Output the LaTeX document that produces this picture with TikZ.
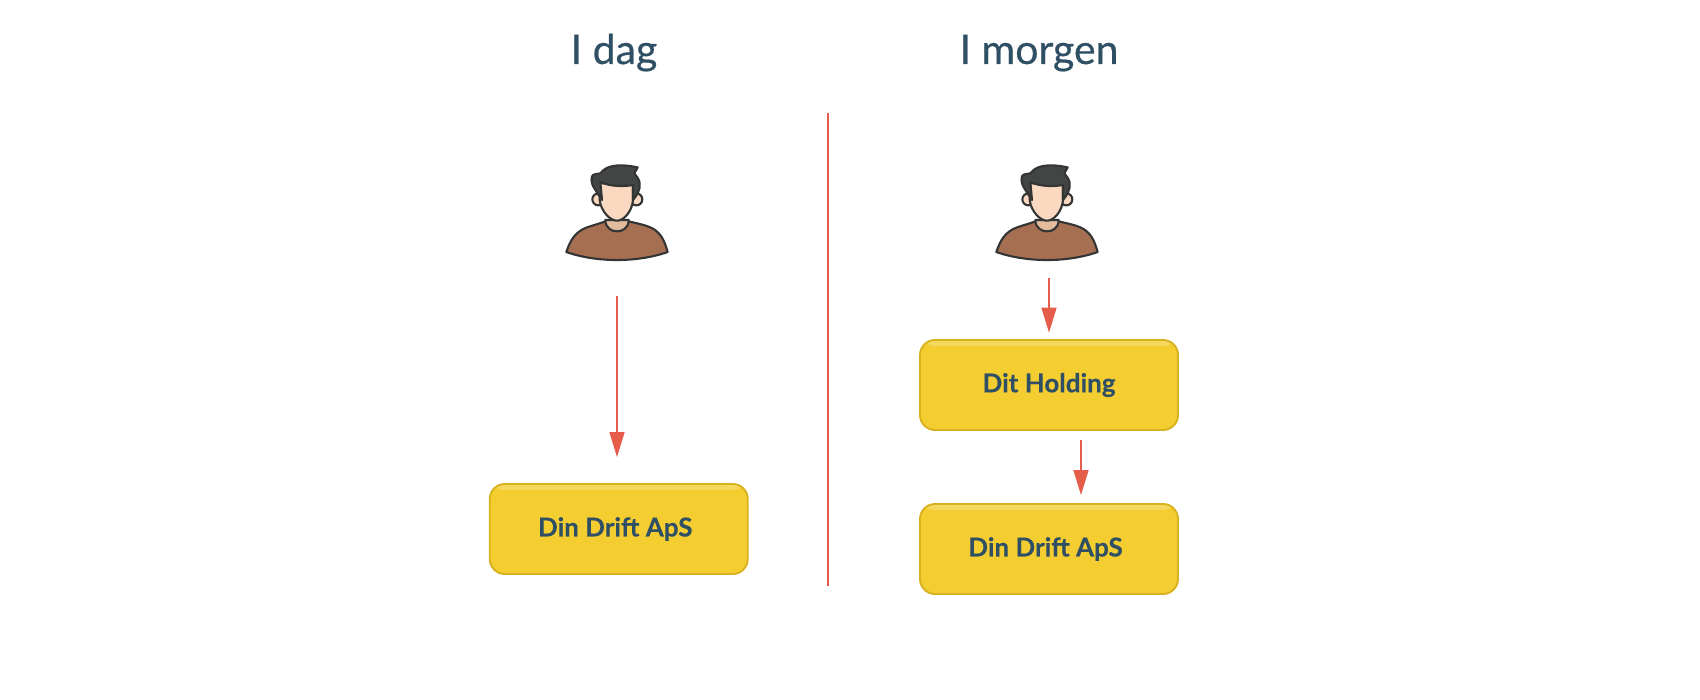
\documentclass[tikz,border=0pt]{standalone}
\usepackage{fontspec}
\setmainfont{Lato}
\usetikzlibrary{arrows.meta}

\definecolor{inkblue}{HTML}{2F4F64}
\definecolor{arrowred}{HTML}{E55D4A}
\definecolor{boxyellow}{HTML}{F4CE30}
\definecolor{boxedge}{HTML}{D8B11F}
\definecolor{boxlight}{HTML}{F5D860}
\definecolor{outline}{HTML}{333535}
\definecolor{torso}{HTML}{A66F52}
\definecolor{neckskin}{HTML}{E3BC9E}
\definecolor{faceskin}{HTML}{FBD9C0}
\definecolor{hair}{HTML}{434545}

\tikzset{
  title/.style={font=\fontsize{20.5}{24}\selectfont\addfontfeatures{FakeBold=0.5},text=inkblue,anchor=base,inner sep=0pt},
  company/.style={rectangle,rounded corners=7.5pt,draw=boxedge,line width=0.95pt,fill=boxyellow,
    minimum width=129pt,minimum height=45pt,inner sep=0pt,text=inkblue,
    font=\fontsize{13}{15}\selectfont\bfseries\addfontfeatures{FakeBold=0.3},
    path picture={\fill[top color=boxlight,bottom color=boxyellow]
      (path picture bounding box.north west) rectangle
      ([yshift=-3pt]path picture bounding box.north east);}},
  owns/.style={-{Triangle[length=12.5pt,width=7.5pt]},draw=arrowred,fill=arrowred,line width=0.8pt},
  person/.pic={
    \begin{scope}[scale=1/3,draw=outline,line width=1.05pt,line join=round]
      \filldraw[fill=torso] (-152,136) .. controls (-140,100) and (-125,75) .. (-90,62)
        .. controls (-70,55) and (-50,50) .. (-35,44) -- (35,44)
        .. controls (60,50) and (85,55) .. (100,62)
        .. controls (130,75) and (142,100) .. (152,136)
        .. controls (60,168) and (-60,168) .. (-152,136) -- cycle;
      \filldraw[fill=neckskin] (-35,40) .. controls (-35,65) and (-15,74) .. (0,74)
        .. controls (15,74) and (35,65) .. (35,40) -- cycle;
      \filldraw[fill=faceskin] (-56,-22) circle (18);
      \filldraw[fill=faceskin] (58,-22) circle (18);
      \filldraw[fill=faceskin] (-52,-70) -- (48,-70) -- (48,-20)
        .. controls (45,15) and (20,42) .. (0,42)
        .. controls (-20,42) and (-48,15) .. (-52,-20) -- cycle;
      \filldraw[fill=hair] (-45,-20) .. controls (-55,-35) and (-62,-45) .. (-72,-62)
        .. controls (-78,-75) and (-78,-90) .. (-72,-95)
        .. controls (-62,-100) and (-55,-98) .. (-50,-100)
        .. controls (-35,-120) and (-5,-132) .. (62,-118)
        -- (52,-100) .. controls (60,-90) and (68,-80) .. (68,-70)
        .. controls (70,-50) and (60,-35) .. (48,-20)
        -- (48,-65) .. controls (20,-60) and (-20,-60) .. (-50,-74) -- cycle;
      \coordinate (-foot) at (0,160);
    \end{scope}
  }
}

\begin{document}
\begin{tikzpicture}[x=0.5pt,y=-0.5pt]
  \useasboundingbox (0,0) rectangle (1700,700);

  \node (today) [title] at (614,64) {I dag};
  \node (tomorrow) [title] at (1039,64) {I morgen};

  \coordinate (divtop) at (828,113);
  \coordinate (divbot) at (828,586);
  \draw[arrowred,line width=0.75pt] (divtop) -- (divbot);

  \pic (ownera) at (617,206.7) {person};
  \pic (ownerb) at (1047,206.7) {person};

  \node (drifta) [company] at (618.75,529) {\raisebox{-0.5pt}{Din Drift ApS}\kern3.5pt};
  \node (holding) [company] at (1049,385) {\raisebox{-0.5pt}{Dit Holding}};
  \node (driftb) [company,below of=holding,node distance=82pt] {\raisebox{-0.5pt}{Din Drift ApS}\kern3.5pt};

  \draw[owns,shorten <=18pt,shorten >=13pt] (ownera-foot) -- (ownera-foot |- drifta.north);
  \draw[owns,shorten <=9pt,shorten >=3.2pt] (ownerb-foot -| holding.north) -- (holding.north);
  \draw[owns,shorten <=4.5pt,shorten >=4pt] ([xshift=16pt]holding.south) -- ([xshift=16pt]driftb.north);
\end{tikzpicture}
\end{document}
